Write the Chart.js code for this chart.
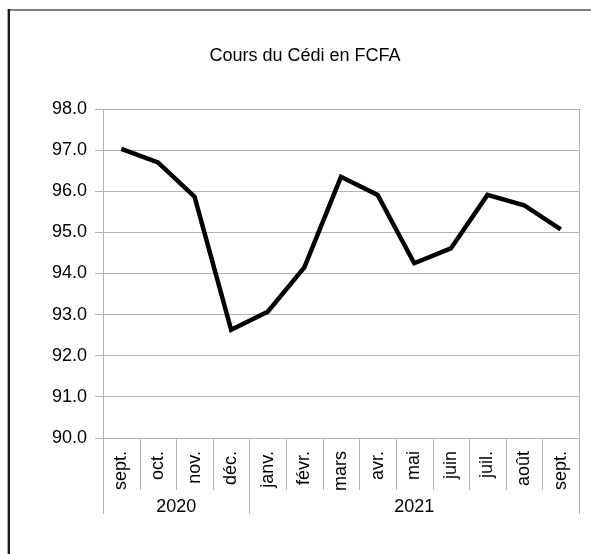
<!DOCTYPE html>
<html lang="fr">
<head>
<meta charset="UTF-8">
<title>Cours du Cédi en FCFA</title>
<script src="https://cdn.jsdelivr.net/npm/chart.js"></script>
<style>
  html, body { margin: 0; padding: 0; background: #fff; }
  #wrap { position: relative; width: 591px; height: 554px; }
</style>
</head>
<body>
<div id="wrap"><canvas id="chart" width="591" height="554"></canvas></div>
<script>
// data
const months = ['sept.', 'oct.', 'nov.', 'déc.', 'janv.', 'févr.', 'mars', 'avr.', 'mai', 'juin', 'juil.', 'août', 'sept.'];
const years = ['2020', '2020', '2020', '2020', '2021', '2021', '2021', '2021', '2021', '2021', '2021', '2021', '2021'];
const rates = [97.03, 96.70, 95.87, 92.63, 93.07, 94.15, 96.35, 95.91, 94.25, 94.61, 95.91, 95.66, 95.07];
const title = 'Cours du Cédi en FCFA';

const FONT = '"Liberation Sans", Arial, sans-serif';
const GRID = '#b3b3b3';

// frame, plot border, category separators, year row and title
const decor = {
  id: 'decor',
  afterDraw(chart) {
    const ctx = chart.ctx;
    const area = chart.chartArea;
    const x = chart.scales.x;
    ctx.save();

    // outer frame (top and left only)
    ctx.fillStyle = '#7f7f7f';
    ctx.fillRect(8, 9, 583, 2);
    ctx.fillStyle = '#aaaaaa';
    ctx.fillRect(7, 9, 1, 545);
    ctx.fillStyle = '#1a1a1a';
    ctx.fillRect(8, 9, 2, 545);

    // right edge of plot
    ctx.strokeStyle = GRID;
    ctx.lineWidth = 1;
    ctx.beginPath();
    ctx.moveTo(Math.round(area.right) + 0.5, area.top);
    ctx.lineTo(Math.round(area.right) + 0.5, area.bottom);
    ctx.stroke();

    // boundaries between categories
    const n = months.length;
    const bounds = [];
    for (let i = 0; i <= n; i++) {
      let bx;
      if (i === 0) bx = area.left;
      else if (i === n) bx = area.right;
      else bx = (x.getPixelForValue(i - 1) + x.getPixelForValue(i)) / 2;
      const groupEdge = i === 0 || i === n || years[i] !== years[i - 1];
      bounds.push(bx);
      ctx.beginPath();
      ctx.moveTo(Math.round(bx) + 0.5, area.bottom);
      ctx.lineTo(Math.round(bx) + 0.5, groupEdge ? 514 : 490);
      ctx.stroke();
    }

    // year labels
    ctx.fillStyle = '#000';
    ctx.font = '18px ' + FONT;
    ctx.textAlign = 'center';
    ctx.textBaseline = 'middle';
    let start = 0;
    for (let i = 1; i <= n; i++) {
      if (i === n || years[i] !== years[start]) {
        ctx.fillText(years[start], (bounds[start] + bounds[i]) / 2, 507);
        start = i;
      }
    }

    // title
    ctx.fillText(title, 305, 56);
    ctx.restore();
  }
};

new Chart(document.getElementById('chart'), {
  type: 'line',
  data: {
    labels: months,
    datasets: [{
      data: rates,
      borderColor: '#000',
      borderWidth: 4.5,
      borderJoinStyle: 'miter',
      tension: 0,
      pointRadius: 0,
      fill: false
    }]
  },
  options: {
    responsive: false,
    animation: false,
    layout: { padding: { left: 0, top: 109, right: 12, bottom: 0 } },
    plugins: {
      legend: { display: false },
      title: { display: false },
      tooltip: { enabled: false }
    },
    scales: {
      x: {
        type: 'category',
        offset: true,
        afterFit: s => { s.height = 116; s.paddingLeft = 0; s.paddingRight = 0; },
        grid: { display: false },
        border: { display: false },
        ticks: {
          autoSkip: false,
          minRotation: 90,
          maxRotation: 90,
          padding: 5,
          color: '#000',
          font: { family: FONT, size: 18 }
        }
      },
      y: {
        min: 90,
        max: 98,
        afterFit: s => { s.width = 103; },
        grid: { color: GRID, tickLength: 8 },
        border: { display: true, color: GRID },
        ticks: {
          stepSize: 1,
          padding: 8,
          color: '#000',
          font: { family: FONT, size: 18 },
          callback: v => v.toFixed(1)
        }
      }
    }
  },
  plugins: [decor]
});
</script>
</body>
</html>
